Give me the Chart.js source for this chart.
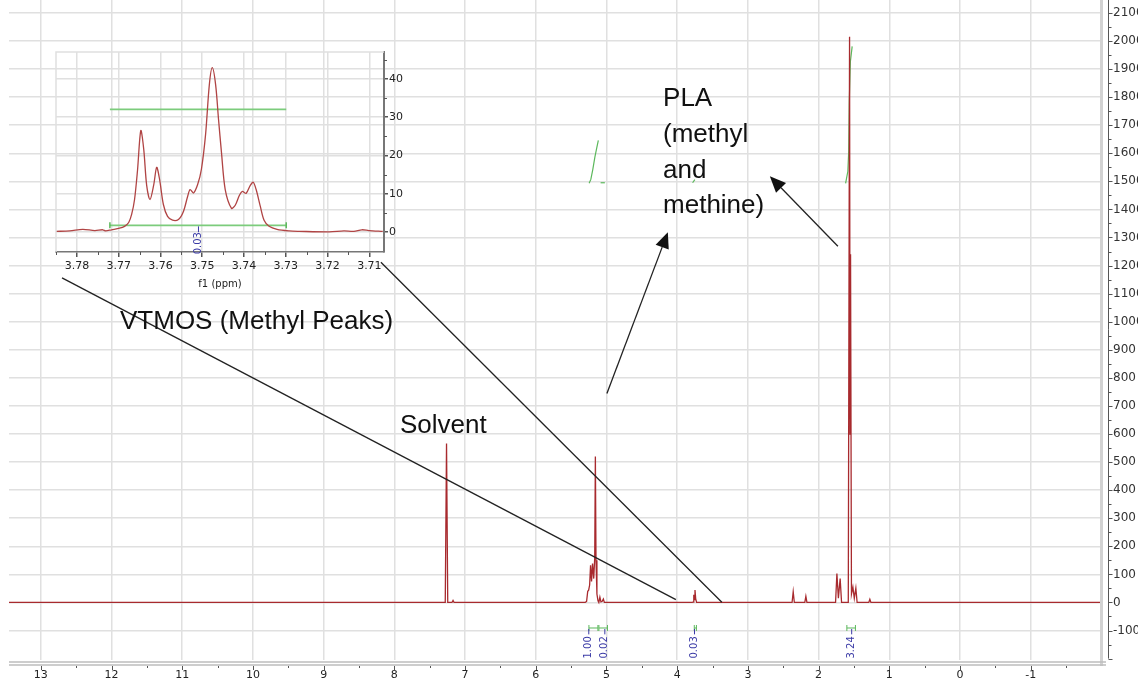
<!DOCTYPE html>
<html>
<head>
<meta charset="utf-8">
<script src="https://cdn.jsdelivr.net/npm/chart.js@4.4.1/dist/chart.umd.min.js"></script>
<style>
  html, body { margin: 0; padding: 0; background: #fff; }
  #wrap { position: relative; width: 1138px; height: 686px; overflow: hidden; }
  #chart, #inset { position: absolute; left: 0; top: 0; }
</style>
</head>
<body>
<div id="wrap">
  <canvas id="chart" width="1138" height="686"></canvas>
  <canvas id="inset" width="420" height="300"></canvas>
</div>
<script>
// full spectrum (ppm, intensity)
const specPpm = [13.45, 7.28, 7.262, 7.245, 7.185, 7.17, 7.155,
  5.30, 5.281, 5.265, 5.252, 5.238, 5.225, 5.211, 5.197, 5.18, 5.166, 5.157, 5.148, 5.135, 5.12, 5.108,
  5.093, 5.078, 5.06, 5.044, 5.03,
  3.79, 3.775, 3.765, 3.757, 3.748, 3.738, 3.725,
  2.375, 2.359, 2.343, 2.195, 2.18, 2.165,
  1.76, 1.741, 1.72, 1.695, 1.675,
  1.58, 1.562, 1.555, 1.548, 1.535, 1.515, 1.495, 1.473, 1.455,
  1.29, 1.275, 1.26, -1.98];
const specInt = [0, 0, 566, 0, 0, 7, 0,
  0, 4, 40, 44, 62, 132, 75, 139, 85, 160, 520, 150, 30, 6, 0,
  19, 2, 4, 12, 0,
  0, 1, 27, 10, 44, 13, 0,
  0, 38, 0, 0, 22, 0,
  0, 103, 15, 85, 0,
  0, 2015, 600, 1240, 30, 55, 15, 51, 0,
  0, 11, 0, 0];

// integral curves (green)
const int1Ppm = [5.245, 5.221, 5.193, 5.164, 5.136, 5.115];
const int1Val = [1493, 1507, 1543, 1586, 1621, 1646];
const int2Ppm = [5.083, 5.023];
const int2Val = [1495, 1495];
const int3Ppm = [3.782, 3.75];
const int3Val = [1495, 1506];
const int4Ppm = [1.618, 1.586, 1.574, 1.566, 1.55, 1.525];
const int4Val = [1493, 1536, 1607, 1785, 1927, 1981];

// integration regions below the baseline
const integFrom = [5.248, 5.107, 3.758, 1.600];
const integTo = [5.121, 4.986, 3.728, 1.479];
const integLabels = ['1.00', '0.02', '0.03', '3.24'];
const integLabelPpm = [5.25, 5.023, 3.755, 1.532];

const xTicks = [13, 12, 11, 10, 9, 8, 7, 6, 5, 4, 3, 2, 1, 0, -1];
const yTicks = [-100, 0, 100, 200, 300, 400, 500, 600, 700, 800, 900, 1000, 1100, 1200,
  1300, 1400, 1500, 1600, 1700, 1800, 1900, 2000, 2100];

// zoomed inset around 3.75 ppm
const insetPpm = [3.785, 3.7817, 3.7786, 3.7757, 3.7738, 3.7731, 3.7717, 3.7698, 3.7686, 3.7676,
  3.7669, 3.7662, 3.7655, 3.7647, 3.764, 3.7633, 3.7625, 3.7616, 3.7609, 3.7602,
  3.7593, 3.7583, 3.7571, 3.7557, 3.7545, 3.7535, 3.7529, 3.7521, 3.7511, 3.7502,
  3.7492, 3.7483, 3.7476, 3.7468, 3.7461, 3.7454, 3.7445, 3.743, 3.7421, 3.7411,
  3.7404, 3.7395, 3.7385, 3.7378, 3.7371, 3.7361, 3.7352, 3.734, 3.7321, 3.7292,
  3.7268, 3.7196, 3.7161, 3.7137, 3.7118, 3.7101, 3.7068];
const insetInt = [0.2, 0.3, 0.7, 0.4, 0.6, 0.3, 0.6, 1.0, 1.5, 2.5,
  4.6, 8.5, 16, 26.5, 21.6, 12.2, 8.5, 12.4, 16.9, 13.7,
  7.2, 4.1, 3.1, 3.3, 5.4, 9.3, 11.1, 10.2, 12.4, 16.4,
  25.5, 38.5, 42.9, 38.5, 29.4, 20.8, 11.1, 6.2, 7.0, 9.6,
  10.6, 10.1, 12.2, 13.0, 11.1, 6.7, 3.1, 1.5, 0.7, 0.3,
  0.2, 0.05, 0.3, 0.2, 0.6, 0.4, 0.2];
const insetIntegPpm = [3.7721, 3.7299];
const insetIntegTop = 32;
const insetIntegBase = 1.75;
const insetXTicks = [3.78, 3.77, 3.76, 3.75, 3.74, 3.73, 3.72, 3.71];
const insetYTicks = [0, 10, 20, 30, 40];

// annotations, placed in data units
const noteTexts = [
  { text: 'Solvent', ppm: 7.92, val: 604 },
  { text: 'VTMOS (Methyl Peaks)', ppm: 11.88, val: 974 },
  { text: 'PLA', ppm: 4.2, val: 1767 },
  { text: '(methyl', ppm: 4.2, val: 1639 },
  { text: 'and', ppm: 4.2, val: 1511 },
  { text: 'methine)', ppm: 4.2, val: 1387 }
];
const noteArrows = [
  { from: [1.727, 1269], to: [2.689, 1518] },
  { from: [4.994, 744], to: [4.132, 1319] }
];
const noteLines = [
  { from: [12.70, 1156], to: [4.018, 10] },
  { from: [8.19, 1212], to: [3.368, 1] }
];

const RED = '#a82a2e';
const GREEN = '#5cb85c';
const BLUE = '#3a3aa6';
const GRID = '#e0e0e0';
const AXIS_FONT = '"DejaVu Sans", Verdana, sans-serif';

function pts(xs, ys) {
  return xs.map((x, i) => ({ x: x, y: ys[i] }));
}

function drawArrow(ctx, x1, y1, x2, y2) {
  const a = Math.atan2(y2 - y1, x2 - x1);
  const len = 16, w = 7;
  const bx = x2 - Math.cos(a) * len, by = y2 - Math.sin(a) * len;
  ctx.beginPath(); ctx.moveTo(x1, y1); ctx.lineTo(bx, by); ctx.stroke();
  ctx.beginPath();
  ctx.moveTo(x2, y2);
  ctx.lineTo(bx + Math.sin(a) * w, by - Math.cos(a) * w);
  ctx.lineTo(bx - Math.sin(a) * w, by + Math.cos(a) * w);
  ctx.closePath();
  ctx.fill();
}

const mainDecor = {
  id: 'mainDecor',
  afterDraw(chart) {
    const ctx = chart.ctx;
    const xs = chart.scales.x, ys = chart.scales.y;
    const area = chart.chartArea;
    ctx.save();

    // right frame + axis line with ticks
    ctx.fillStyle = '#d2d2d2';
    ctx.fillRect(area.right, 0, 3, area.bottom + 6);
    const axX = area.right + 8.5;
    ctx.strokeStyle = '#555';
    ctx.lineWidth = 1;
    ctx.beginPath();
    ctx.moveTo(axX, 0); ctx.lineTo(axX, ys.getPixelForValue(-200)); ctx.stroke();
    for (let v = -200; v <= 2100; v += 50) {
      const y = Math.round(ys.getPixelForValue(v)) + 0.5;
      ctx.beginPath();
      ctx.moveTo(axX, y); ctx.lineTo(axX + (v % 100 === 0 ? 4 : 3), y);
      ctx.stroke();
    }

    // bottom double line + ticks
    ctx.strokeStyle = '#bdbdbd';
    ctx.lineWidth = 1.5;
    ctx.beginPath();
    ctx.moveTo(area.left, area.bottom + 2); ctx.lineTo(area.right + 6, area.bottom + 2);
    ctx.moveTo(area.left, area.bottom + 5); ctx.lineTo(area.right + 6, area.bottom + 5);
    ctx.stroke();
    ctx.strokeStyle = '#555';
    ctx.lineWidth = 1;
    for (let p = -1.5; p <= 13.5; p += 0.5) {
      const x = Math.round(xs.getPixelForValue(p)) + 0.5;
      if (x < area.left || x > area.right) continue;
      ctx.beginPath();
      ctx.moveTo(x, area.bottom + 6);
      ctx.lineTo(x, area.bottom + (Number.isInteger(p) ? 10 : 8));
      ctx.stroke();
    }

    // integration regions
    ctx.lineWidth = 1;
    integLabels.forEach((lab, i) => {
      const x1 = xs.getPixelForValue(integFrom[i]);
      const x2 = xs.getPixelForValue(integTo[i]);
      const y = ys.getPixelForValue(-91);
      ctx.strokeStyle = GREEN;
      ctx.beginPath();
      ctx.moveTo(x1, y); ctx.lineTo(x2, y);
      ctx.moveTo(x1, y - 3); ctx.lineTo(x1, y + 3);
      ctx.moveTo(x2, y - 3); ctx.lineTo(x2, y + 3);
      ctx.stroke();
      const lx = xs.getPixelForValue(integLabelPpm[i]);
      const ly = ys.getPixelForValue(-160);
      ctx.strokeStyle = BLUE;
      ctx.beginPath();
      ctx.moveTo(lx, y + 1); ctx.lineTo(lx, ly - 13);
      ctx.stroke();
      ctx.save();
      ctx.translate(lx, ly);
      ctx.rotate(-Math.PI / 2);
      ctx.fillStyle = BLUE;
      ctx.font = '10px ' + AXIS_FONT;
      ctx.textAlign = 'center';
      ctx.textBaseline = 'middle';
      ctx.fillText(lab, 0, 0);
      ctx.restore();
    });

    // annotation lines and arrows
    ctx.strokeStyle = '#222';
    ctx.fillStyle = '#111';
    ctx.lineWidth = 1.3;
    noteLines.forEach(l => {
      ctx.beginPath();
      ctx.moveTo(xs.getPixelForValue(l.from[0]), ys.getPixelForValue(l.from[1]));
      ctx.lineTo(xs.getPixelForValue(l.to[0]), ys.getPixelForValue(l.to[1]));
      ctx.stroke();
    });
    noteArrows.forEach(a => {
      drawArrow(ctx,
        xs.getPixelForValue(a.from[0]), ys.getPixelForValue(a.from[1]),
        xs.getPixelForValue(a.to[0]), ys.getPixelForValue(a.to[1]));
    });
    ctx.font = '26px "Liberation Sans", Arial, sans-serif';
    ctx.textAlign = 'left';
    ctx.textBaseline = 'alphabetic';
    noteTexts.forEach(t => {
      ctx.fillText(t.text, xs.getPixelForValue(t.ppm), ys.getPixelForValue(t.val));
    });
    ctx.restore();
  }
};

const lineDs = (data, color, width) => ({
  data: data, borderColor: color, borderWidth: width,
  pointRadius: 0, tension: 0, fill: false
});

new Chart(document.getElementById('chart'), {
  type: 'line',
  data: {
    datasets: [
      lineDs(pts(specPpm, specInt), RED, 1.3),
      lineDs(pts(int1Ppm, int1Val), GREEN, 1.2),
      lineDs(pts(int2Ppm, int2Val), GREEN, 1.2),
      lineDs(pts(int3Ppm, int3Val), GREEN, 1.2),
      lineDs(pts(int4Ppm, int4Val), GREEN, 1.2)
    ]
  },
  options: {
    responsive: false,
    animation: false,
    layout: { padding: { left: 9, top: 0, right: 0, bottom: 0 } },
    plugins: { legend: { display: false }, tooltip: { enabled: false } },
    scales: {
      x: {
        type: 'linear',
        min: -1.98,
        max: 13.45,
        reverse: true,
        afterBuildTicks: s => { s.ticks = xTicks.map(v => ({ value: v })); },
        afterFit: s => { s.height = 26; s.paddingLeft = 0; s.paddingRight = 0; },
        grid: { color: GRID, lineWidth: 1.5, tickLength: 8, tickColor: 'rgba(0,0,0,0)' },
        border: { display: false },
        ticks: { font: { family: AXIS_FONT, size: 11 }, color: '#222', padding: 1, maxRotation: 0 }
      },
      y: {
        type: 'linear',
        position: 'right',
        min: -205,
        max: 2146,
        afterBuildTicks: s => { s.ticks = yTicks.map(v => ({ value: v })); },
        afterFit: s => { s.width = 38; s.paddingTop = 0; s.paddingBottom = 0; },
        grid: { color: GRID, lineWidth: 1.5, tickLength: 12, tickColor: 'rgba(0,0,0,0)' },
        border: { display: false },
        ticks: { font: { family: AXIS_FONT, size: 12 }, color: '#333', padding: 1,
          callback: v => String(v) }
      }
    }
  },
  plugins: [mainDecor]
});

const insetDecor = {
  id: 'insetDecor',
  afterDraw(chart) {
    const ctx = chart.ctx;
    const xs = chart.scales.x, ys = chart.scales.y;
    const area = chart.chartArea;
    ctx.save();
    ctx.strokeStyle = GRID;
    ctx.lineWidth = 1.5;
    ctx.beginPath();
    ctx.moveTo(area.left, area.bottom); ctx.lineTo(area.left, area.top); ctx.lineTo(area.right, area.top);
    ctx.stroke();

    ctx.strokeStyle = '#555';
    ctx.lineWidth = 1;
    for (let v = 5; v <= 45; v += 10) {
      const y = Math.round(ys.getPixelForValue(v)) + 0.5;
      ctx.beginPath(); ctx.moveTo(area.right, y); ctx.lineTo(area.right + 3, y); ctx.stroke();
    }
    for (let i = 0; i < insetXTicks.length; i++) {
      const x = Math.round(xs.getPixelForValue(insetXTicks[i] + 0.005)) + 0.5;
      if (x < area.left || x > area.right) continue;
      ctx.beginPath(); ctx.moveTo(x, area.bottom); ctx.lineTo(x, area.bottom + 3); ctx.stroke();
    }
    const endX = Math.round(xs.getPixelForValue(3.705)) + 0.5;
    if (endX <= area.right) {
      ctx.beginPath(); ctx.moveTo(endX, area.bottom); ctx.lineTo(endX, area.bottom + 3); ctx.stroke();
    }

    // integral bracket ends and label
    const x1 = xs.getPixelForValue(insetIntegPpm[0]);
    const x2 = xs.getPixelForValue(insetIntegPpm[1]);
    const yb = ys.getPixelForValue(insetIntegBase);
    ctx.strokeStyle = GREEN;
    ctx.lineWidth = 1.5;
    ctx.beginPath();
    ctx.moveTo(x1, yb - 3); ctx.lineTo(x1, yb + 3);
    ctx.moveTo(x2, yb - 3); ctx.lineTo(x2, yb + 3);
    ctx.stroke();
    const lx = xs.getPixelForValue(3.7509);
    const ly = ys.getPixelForValue(-2.9);
    ctx.strokeStyle = BLUE;
    ctx.lineWidth = 1;
    ctx.beginPath(); ctx.moveTo(lx, yb + 1); ctx.lineTo(lx, ly - 11); ctx.stroke();
    ctx.translate(lx, ly);
    ctx.rotate(-Math.PI / 2);
    ctx.fillStyle = BLUE;
    ctx.font = '10px ' + AXIS_FONT;
    ctx.textAlign = 'center';
    ctx.textBaseline = 'middle';
    ctx.fillText('0.03', 0, 0);
    ctx.restore();
  }
};

new Chart(document.getElementById('inset'), {
  type: 'line',
  data: {
    datasets: [
      Object.assign(lineDs(pts(insetPpm, insetInt), '#b04444', 1.3), { tension: 0.3 }),
      lineDs(pts(insetIntegPpm, [insetIntegTop, insetIntegTop]), '#7ccc7c', 1.8),
      lineDs(pts(insetIntegPpm, [insetIntegBase, insetIntegBase]), '#7ccc7c', 1.8)
    ]
  },
  options: {
    responsive: false,
    animation: false,
    layout: { padding: { left: 56, top: 52, right: 0, bottom: 0 } },
    plugins: { legend: { display: false }, tooltip: { enabled: false } },
    scales: {
      x: {
        type: 'linear',
        min: 3.7065,
        max: 3.785,
        reverse: true,
        afterBuildTicks: s => { s.ticks = insetXTicks.map(v => ({ value: v })); },
        afterFit: s => { s.height = 48; s.paddingLeft = 0; s.paddingRight = 0; },
        grid: { color: GRID, lineWidth: 1.5, tickLength: 5, tickColor: '#555', drawOnChartArea: true },
        border: { display: true, color: '#777', width: 1.5 },
        ticks: { font: { family: AXIS_FONT, size: 11 }, color: '#222', padding: 3, maxRotation: 0,
          callback: v => v.toFixed(2) },
        title: { display: true, text: 'f1 (ppm)', font: { family: AXIS_FONT, size: 10 }, color: '#222',
          padding: { top: 0, bottom: 10 } }
      },
      y: {
        type: 'linear',
        position: 'right',
        min: -5.2,
        max: 47,
        afterBuildTicks: s => { s.ticks = insetYTicks.map(v => ({ value: v })); },
        afterFit: s => { s.width = 36; },
        grid: { color: GRID, lineWidth: 1.5, tickLength: 4, tickColor: '#555' },
        border: { display: true, color: '#777', width: 2 },
        ticks: { font: { family: AXIS_FONT, size: 11 }, color: '#222', padding: 1 }
      }
    }
  },
  plugins: [insetDecor]
});
</script>
</body>
</html>
